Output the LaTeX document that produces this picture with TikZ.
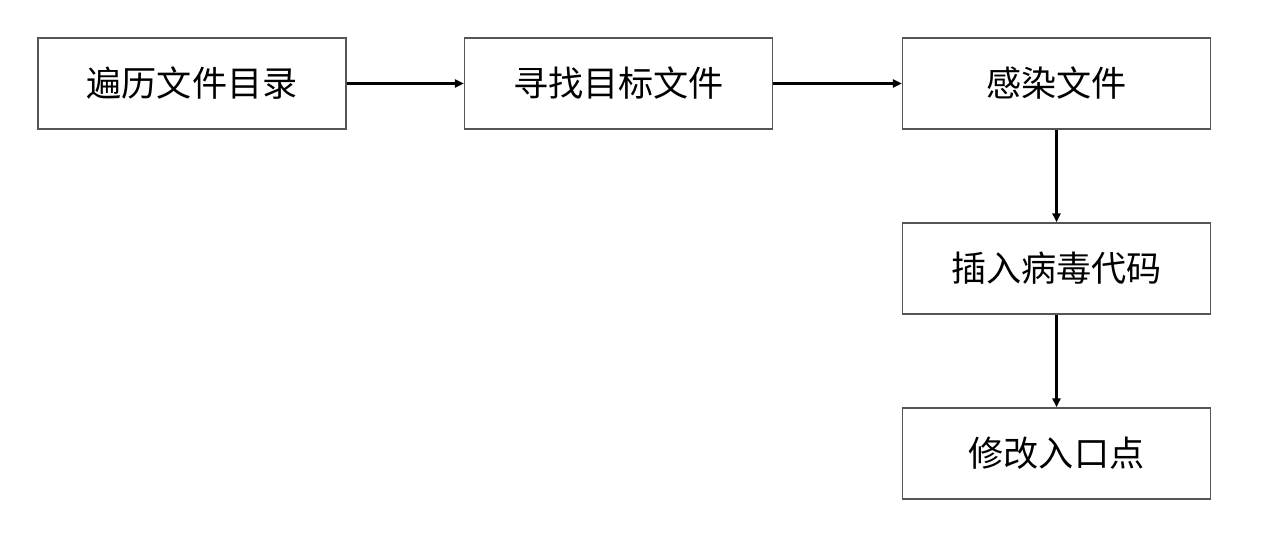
\documentclass[tikz,border=0pt]{standalone}
\usepackage{fontspec}
\newfontfamily\cjk{Noto Sans CJK SC}
\usetikzlibrary{arrows.meta}
\definecolor{boxgray}{RGB}{85,85,85}
\tikzset{
  stepbox/.style={draw=boxgray, line width=0.9pt, minimum width=6.16cm, minimum height=1.82cm, inner sep=0pt, font=\cjk\fontsize{20pt}{24pt}\selectfont},
  conn/.style={line width=1.5pt, -{Triangle[length=5pt,width=4.5pt]}}
}
\begin{document}
\begin{tikzpicture}[x=0.02cm,y=-0.02cm]
\useasboundingbox (0,0) rectangle (1267,534);
\node[stepbox] (b1) at (192,83.5) {遍历文件目录};
\node[stepbox] (b2) at (618.5,83.5) {寻找目标文件};
\node[stepbox] (b3) at (1056.5,83.5) {感染文件};
\node[stepbox] (b4) at (1056.5,268.5) {插入病毒代码};
\node[stepbox] (b5) at (1056.5,453.5) {修改入口点};
\draw[conn] (b1.east) -- (b2.west);
\draw[conn] (b2.east) -- (b3.west);
\draw[conn] (b3.south) -- (b4.north);
\draw[conn] (b4.south) -- (b5.north);
\end{tikzpicture}
\end{document}
